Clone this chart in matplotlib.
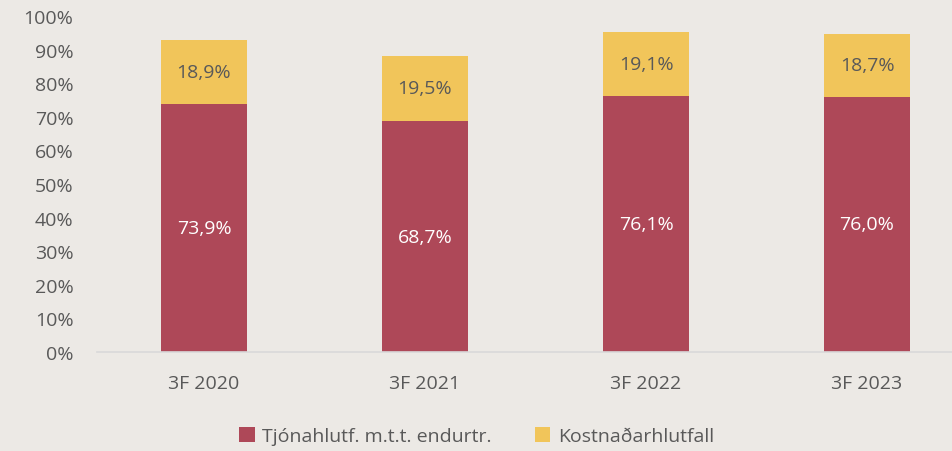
import numpy as np
import matplotlib.pyplot as plt
from matplotlib.ticker import FuncFormatter

categories = ["3F 2020", "3F 2021", "3F 2022", "3F 2023"]
tjon = [73.9, 68.7, 76.1, 76.0]
kostn = [18.9, 19.5, 19.1, 18.7]
labels = ["Tjónahlutf. m.t.t. endurtr.", "Kostnaðarhlutfall"]

bg = "#ECE9E5"
red = "#AE4858"
yellow = "#F1C55A"
grey = "#595959"

plt.rcParams["font.family"] = ["Open Sans", "DejaVu Sans"]
fs = 14

fig = plt.figure(figsize=(9.53, 4.52), dpi=100, facecolor=bg)
ax = fig.add_axes([97 / 953, (452 - 353) / 452, (953 - 97) / 953, (353 - 17) / 452])
ax.set_facecolor(bg)

x = np.arange(len(categories))
w = 0.39
ax.bar(x, tjon, w, color=red, label=labels[0])
ax.bar(x, kostn, w, bottom=tjon, color=yellow, label=labels[1])

for i in range(len(x)):
    ax.text(x[i], tjon[i] / 2, f"{tjon[i]:.1f}%".replace(".", ","),
            ha="center", va="center", color="white", fontsize=fs)
    ax.text(x[i], tjon[i] + kostn[i] / 2, f"{kostn[i]:.1f}%".replace(".", ","),
            ha="center", va="center", color=grey, fontsize=fs)

ax.set_ylim(0, 100)
ax.set_xlim(-0.484, 3.389)
ax.set_yticks(np.arange(0, 101, 10))
ax.yaxis.set_major_formatter(FuncFormatter(lambda v, p: f"{v:.0f}%"))
ax.set_xticks(x)
ax.set_xticklabels(categories)
ax.tick_params(length=0, colors=grey, labelsize=fs)
ax.tick_params(axis="x", pad=16)
ax.tick_params(axis="y", pad=17)
for s in ["top", "right", "left"]:
    ax.spines[s].set_visible(False)
ax.spines["bottom"].set_color("#D9D9D9")
ax.spines["bottom"].set_linewidth(1.2)

fig.legend(loc="center", bbox_to_anchor=(0.5, 0.033), ncol=2,
           frameon=False, fontsize=fs, handlelength=0.8, handleheight=0.8,
           handletextpad=0.4, columnspacing=2.2, labelcolor=grey)

fig.savefig("out.png", dpi=100, facecolor=bg)
